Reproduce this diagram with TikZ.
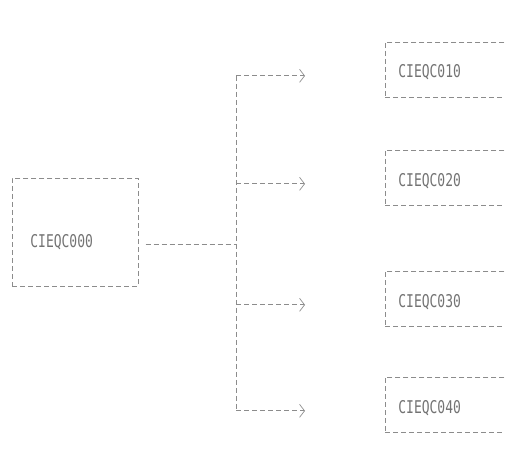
\documentclass[tikz,border=0pt]{standalone}
\usepackage{fontspec}
\newfontfamily\printfont{DejaVu Sans Mono}
\newcommand\talltext[1]{\scalebox{1}[1.35]{#1}}
\usetikzlibrary{arrows.meta, positioning}

\begin{document}
\begin{tikzpicture}[
  x=1pt, y=-1pt,
  ink/.style={draw=black!45, line width=0.7pt, dash pattern=on 5pt off 3pt},
  card/.style={ink, rectangle, inner sep=0pt, text=black!55,
               font=\printfont\fontsize{13}{15}\selectfont, align=left,
               text height=36pt, text depth=19pt},
  link/.style={ink},
  arr/.style={ink, -{Straight Barb[length=5pt, width=13pt]}, shorten >=80pt}
]
  \useasboundingbox (0,0) rectangle (505,462);
  \clip (0,0) rectangle (505,462);

  % Parent member (left)
  \node[card, anchor=base west, text width=90pt, inner xsep=18pt,
        text height=69pt, text depth=39pt] (q000) at (12,247) {\talltext{CIEQC000}};

  % Child members (right column, cut off at the edge)
  \node[card, anchor=base west, text width=114pt, inner xsep=13pt] (q010) at (385,78)  {\talltext{CIEQC010}};
  \node[card, anchor=base west, text width=114pt, inner xsep=13pt] (q020) at (385,186) {\talltext{CIEQC020}};
  \node[card, anchor=base west, text width=114pt, inner xsep=13pt] (q030) at (385,307) {\talltext{CIEQC030}};
  \node[card, anchor=base west, text width=114pt, inner xsep=13pt] (q040) at (385,413) {\talltext{CIEQC040}};

  % Trunk
  \coordinate (trunk) at (236,241);
  \draw[link, shorten <=7pt] (q000.mid east) -- (trunk |- q000.mid east);
  \draw[link] (trunk |- q010.mid west) -- (trunk |- q040.mid west);

  % Branches
  \draw[arr] (trunk |- q010.mid west) -- (q010.mid west);
  \draw[arr] (trunk |- q020.mid west) -- (q020.mid west);
  \draw[arr] (trunk |- q030.mid west) -- (q030.mid west);
  \draw[arr] (trunk |- q040.mid west) -- (q040.mid west);
\end{tikzpicture}
\end{document}
